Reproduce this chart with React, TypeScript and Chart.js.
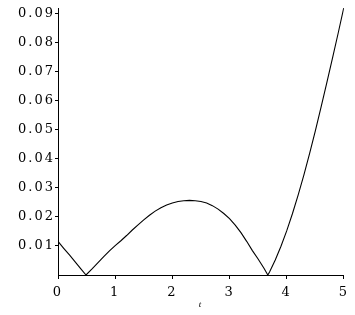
import React, { useEffect, useRef } from "react";
import { Chart, registerables } from "chart.js";

Chart.register(...registerables);

const tValues = [
  0, 0.1, 0.2, 0.3, 0.4, 0.49, 0.6, 0.7, 0.8, 0.9, 1.0, 1.1, 1.2, 1.3, 1.4, 1.5,
  1.6, 1.7, 1.8, 1.9, 2.0, 2.1, 2.2, 2.3, 2.4, 2.5, 2.6, 2.7, 2.8, 2.9, 3.0,
  3.1, 3.2, 3.3, 3.4, 3.5, 3.6, 3.67, 3.7, 3.8, 3.9, 4.0, 4.1, 4.2, 4.3, 4.4,
  4.5, 4.6, 4.7, 4.8, 4.9, 5.0,
];
const seriesValues = [
  0.0116, 0.0092, 0.0069, 0.0045, 0.0021, 0.0, 0.0022, 0.0043, 0.0063, 0.0083,
  0.0101, 0.0118, 0.0136, 0.0155, 0.0173, 0.019, 0.0206, 0.022, 0.0232, 0.0241,
  0.0248, 0.0253, 0.0256, 0.0257, 0.0256, 0.0253, 0.0248, 0.0239, 0.0227,
  0.0212, 0.0194, 0.0172, 0.0146, 0.0116, 0.0084, 0.0055, 0.0024, 0.0, 0.001,
  0.0052, 0.0099, 0.0152, 0.0211, 0.0275, 0.0344, 0.0418, 0.0496, 0.0578,
  0.0661, 0.0746, 0.0833, 0.0922,
];
const xTickValues = [0, 1, 2, 3, 4, 5];
const yTickValues = [0.01, 0.02, 0.03, 0.04, 0.05, 0.06, 0.07, 0.08, 0.09];
const xAxisTitle = "t";

export default function App() {
  const ref = useRef<HTMLCanvasElement>(null);
  useEffect(() => {
    document.body.style.margin = "0";
    const canvas = ref.current!;
    const spacing = {
      id: "spacing",
      beforeUpdate(chart: any) {
        chart.ctx.letterSpacing = "2px";
      },
      beforeDraw(chart: any) {
        chart.ctx.letterSpacing = "2px";
      },
    };
    const chart = new Chart(canvas, {
      type: "line",
      data: {
        datasets: [
          {
            data: tValues.map((t, i) => ({ x: t, y: seriesValues[i] })),
            borderColor: "#000",
            borderWidth: 1.1,
            pointRadius: 0,
            tension: 0,
            fill: false,
          },
        ],
      },
      options: {
        animation: false,
        responsive: false,
        layout: { padding: { top: 8, right: 11, left: 0, bottom: 0 } },
        plugins: { legend: { display: false }, tooltip: { enabled: false } },
        scales: {
          x: {
            type: "linear",
            min: 0,
            max: 5,
            afterBuildTicks: (s: any) => {
              s.ticks = xTickValues.map((v) => ({ value: v }));
            },
            afterFit: (s: any) => {
              s.height = 40;
            },
            grid: {
              drawOnChartArea: false,
              tickLength: 4,
              color: "#000",
              tickColor: "#000",
            },
            border: { display: true, color: "#000", width: 1 },
            ticks: {
              color: "#000",
              padding: 6,
              maxRotation: 0,
              font: { family: "DejaVu Serif", size: 13 },
              callback: (v: any) => String(v),
            },
            title: {
              display: true,
              text: xAxisTitle,
              color: "#000",
              padding: { top: 0, bottom: 5 },
              font: { family: "Liberation Serif", size: 9, style: "italic" },
            },
          },
          y: {
            type: "linear",
            min: 0,
            max: 0.092,
            afterBuildTicks: (s: any) => {
              s.ticks = yTickValues.map((v) => ({ value: v }));
            },
            afterFit: (s: any) => {
              s.width = 58;
            },
            grid: {
              drawOnChartArea: false,
              tickLength: 3,
              color: "#000",
              tickColor: "#000",
            },
            border: { display: true, color: "#000", width: 1 },
            ticks: {
              color: "#000",
              padding: 0,
              font: { family: "DejaVu Serif", size: 13 },
              callback: (v: any) => Number(v).toFixed(2),
            },
          },
        },
      },
      plugins: [spacing],
    });
    return () => chart.destroy();
  }, []);
  return (
    <canvas
      ref={ref}
      width={355}
      height={315}
      style={{ display: "block", width: 355, height: 315 }}
    />
  );
}
